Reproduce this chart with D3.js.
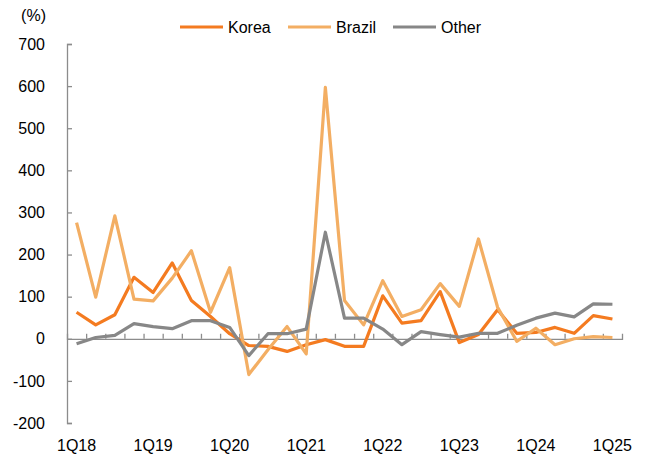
<!DOCTYPE html>
<html>
<head>
<meta charset="utf-8">
<script src="https://cdn.jsdelivr.net/npm/d3@7"></script>
<style>
  body { margin: 0; background: #fff; }
  text { font-family: "Liberation Sans", Arial, sans-serif; }
</style>
</head>
<body>
<script>
// quarters 1Q18 .. 1Q25
var quarters = ["1Q18","2Q18","3Q18","4Q18","1Q19","2Q19","3Q19","4Q19",
                "1Q20","2Q20","3Q20","4Q20","1Q21","2Q21","3Q21","4Q21",
                "1Q22","2Q22","3Q22","4Q22","1Q23","2Q23","3Q23","4Q23",
                "1Q24","2Q24","3Q24","4Q24","1Q25"];

var korea  = [63, 33, 57, 146, 110, 180, 91, 53, 12, -16, -18, -30, -14, -2, -18, -18,
              102, 37, 43, 112, -9, 10, 69, 13, 15, 27, 13, 55, 47];
var brazil = [276, 99, 292, 94, 90, 144, 209, 63, 169, -85, -26, 29, -36, 597, 91, 33,
              138, 53, 69, 131, 77, 237, 75, -6, 25, -14, 0, 5, 3];
var other  = [-12, 3, 8, 36, 29, 24, 43, 43, 27, -40, 12, 12, 23, 253, 49, 49,
              23, -14, 17, 10, 4, 13, 13, 32, 49, 61, 52, 83, 82];

var yTicks = [-200, -100, 0, 100, 200, 300, 400, 500, 600, 700];
var xLabels = ["1Q18","1Q19","1Q20","1Q21","1Q22","1Q23","1Q24","1Q25"];

var series = [
  {name: "Korea",  values: korea,  color: "#f47b20"},
  {name: "Brazil", values: brazil, color: "#f3ae63"},
  {name: "Other",  values: other,  color: "#878787"}
];

var width = 646, height = 462;
var plotLeft = 67, plotRight = 622, plotTop = 44, plotBottom = 423;

var svg = d3.select("body").append("svg")
    .attr("width", width)
    .attr("height", height);

var x = d3.scaleBand().domain(quarters).range([plotLeft, plotRight]);
var xEdge = d3.scaleLinear().domain([0, quarters.length]).range([plotLeft, plotRight]);
var y = d3.scaleLinear().domain([-200, 700]).range([plotBottom, plotTop]);

var axisColor = "#8c8c8c";

// y axis: ticks pointing inwards, labels on the left (plain hyphen for negatives)
var gy = svg.append("g")
    .attr("transform", "translate(" + plotLeft + ",0)")
    .call(d3.axisLeft(y).tickValues(yTicks).tickSize(-5).tickPadding(22)
        .tickFormat(function(d) { return String(d); }));
gy.selectAll("path, line").attr("stroke", axisColor).attr("stroke-width", 1.3);
gy.selectAll("text").attr("font-size", "16px").attr("fill", "#000")
    .attr("font-family", "Liberation Sans, Arial, sans-serif");

// x axis on the zero line, ticks between quarters
var gx = svg.append("g")
    .attr("transform", "translate(0," + y(0) + ")")
    .call(d3.axisBottom(xEdge).tickValues(d3.range(1, quarters.length)).tickSize(-5).tickFormat(""));
gx.selectAll("path, line").attr("stroke", axisColor).attr("stroke-width", 1.3);

// year labels along the bottom
var gl = svg.append("g")
    .attr("transform", "translate(0," + (plotBottom + 14) + ")")
    .call(d3.axisBottom(x).tickValues(xLabels).tickSize(0).tickPadding(3));
gl.select(".domain").remove();
gl.selectAll("text").attr("font-size", "16px").attr("fill", "#000")
    .attr("font-family", "Liberation Sans, Arial, sans-serif");

// unit label
svg.append("text")
    .attr("x", 46)
    .attr("y", 21)
    .attr("text-anchor", "end")
    .attr("font-size", "16px")
    .text("(%)");

// lines
var line = d3.line()
    .x(function(d, i) { return x(quarters[i]) + x.bandwidth() / 2; })
    .y(function(d) { return y(d); });

svg.selectAll(".series")
    .data(series)
    .enter()
    .append("path")
    .attr("class", "series")
    .attr("d", function(d) { return line(d.values); })
    .attr("fill", "none")
    .attr("stroke", function(d) { return d.color; })
    .attr("stroke-width", 3.2)
    .attr("stroke-linejoin", "round");

// legend
var legendX = [180, 288, 393];
var legend = svg.selectAll(".legend")
    .data(series)
    .enter()
    .append("g")
    .attr("class", "legend")
    .attr("transform", function(d, i) { return "translate(" + legendX[i] + ",27)"; });

legend.append("line")
    .attr("x1", 0).attr("x2", 43)
    .attr("stroke", function(d) { return d.color; })
    .attr("stroke-width", 3.2);

legend.append("text")
    .attr("x", 48)
    .attr("dy", "0.35em")
    .attr("font-size", "16px")
    .text(function(d) { return d.name; });
</script>
</body>
</html>
